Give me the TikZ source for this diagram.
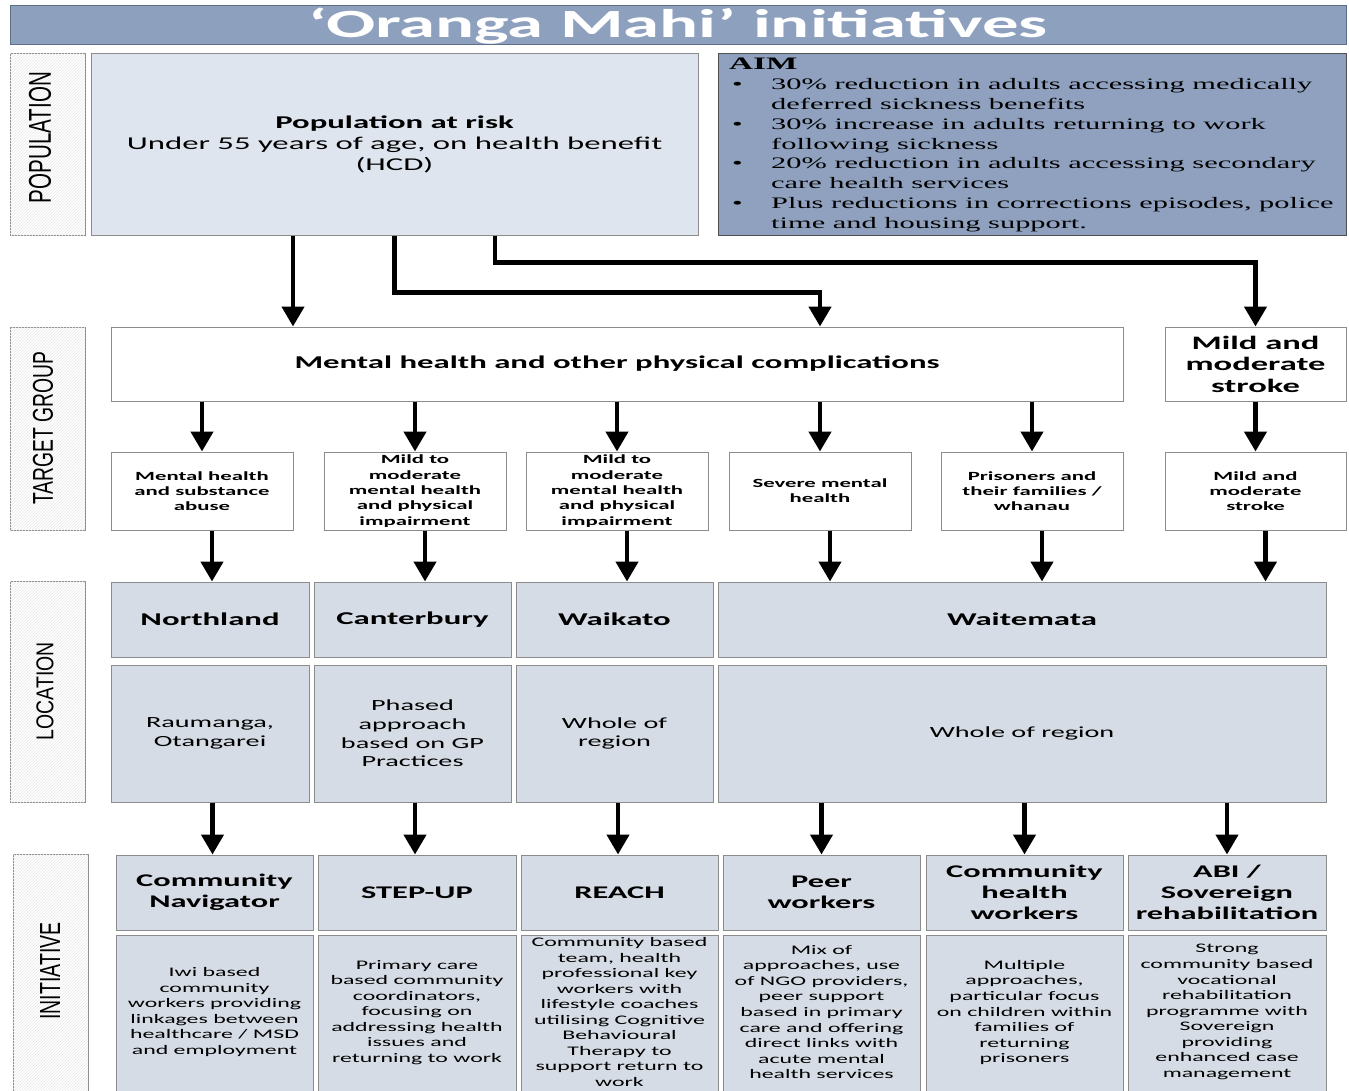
\documentclass[tikz,border=0pt]{standalone}
\usepackage{fontspec}
\setmainfont{Carlito}[FakeStretch=1.82]
\newfontfamily\aimfont{Liberation Serif}[FakeStretch=1.9]
\newfontfamily\sidefont{Liberation Sans}
\usetikzlibrary{arrows.meta,patterns}
\definecolor{titleblue}{RGB}{141,160,190}
\definecolor{titleedge}{RGB}{95,110,135}
\definecolor{aimblue}{RGB}{143,161,190}
\definecolor{aimedge}{RGB}{80,80,80}
\definecolor{popfill}{RGB}{222,229,239}
\definecolor{cellfill}{RGB}{214,220,229}
\definecolor{edgegray}{RGB}{140,140,140}
\definecolor{sidehatch}{RGB}{232,232,232}
\begin{document}
\begin{tikzpicture}[x=1pt,y=-1pt,
  box/.style={draw=edgegray, line width=1pt, inner sep=0pt, align=center},
  cell/.style={box, fill=cellfill},
  whitebox/.style={box, fill=white},
  sidebox/.style={draw=edgegray, line width=1pt, fill=white, inner sep=0pt,
    postaction={pattern=north east lines, pattern color=sidehatch}},
  sidelabel/.style={rotate=90, inner sep=0pt},
  txt/.style={inner sep=0pt, align=center},
  arr/.style={line width=4.5pt, -{Triangle[width=22pt,length=20pt]}},
  fpop/.style={font=\fontsize{18}{21}\selectfont},
  fmh/.style={font=\fontsize{18}{21}\selectfont\bfseries},
  fstroke/.style={font=\fontsize{19}{21.5}\selectfont\bfseries},
  fsmall/.style={font=\fontsize{12.5}{15.3}\selectfont\bfseries},
  floct/.style={font=\fontsize{18}{21}\selectfont\bfseries},
  flocb/.style={font=\fontsize{15.5}{18.7}\selectfont},
  finit/.style={font=\fontsize{17.8}{21}\selectfont\bfseries},
  finib/.style={font=\fontsize{13.1}{15.55}\selectfont},
]
\useasboundingbox (0,0) rectangle (1349,1090);
\clip (0,0) rectangle (1349,1090);

% title
\node[draw=titleedge, line width=1pt, fill=titleblue, minimum width=1336pt, minimum height=39pt, inner sep=0pt] (title) at (678,24.5) {};
\node[anchor=base, inner sep=0pt, text=white, font=\fontsize{40}{40}\selectfont\bfseries] (titletext) at (678,37.5) {‘Oranga Mahi’ initiatives};

% side labels
\node[sidebox, minimum width=75pt, minimum height=182pt] (sp) at (47.5,144) {};
\node[sidelabel] (spl) at (40,137.5) {\resizebox{131pt}{22pt}{\sidefont POPULATION}};
\node[sidebox, minimum width=75pt, minimum height=203pt] (st) at (47.5,428.5) {};
\node[sidelabel] (stl) at (43,428) {\resizebox{153pt}{20pt}{\sidefont TARGET GROUP}};
\node[sidebox, minimum width=75pt, minimum height=221pt] (sl) at (47.5,691.5) {};
\node[sidelabel] (sll) at (45,691) {\resizebox{98pt}{17pt}{\sidefont LOCATION}};
\node[sidebox, minimum width=75pt, minimum height=250pt] (si) at (50.5,979) {};
\node[sidelabel] (sil) at (50,971) {\resizebox{97pt}{20pt}{\sidefont INITIATIVE}};

% population
\node[box, fill=popfill, minimum width=607pt, minimum height=182pt, fpop] (pop) at (394.5,144)
  {\textbf{Population at risk}\\Under 55 years of age, on health benefit\\(HCD)};

% aim
\node[draw=aimedge, line width=1pt, fill=aimblue, minimum width=628pt, minimum height=182pt, inner sep=0pt] (aimbox) at (1032,144) {};
\node[anchor=north west, inner sep=0pt, align=left, font=\aimfont\fontsize{16}{19.7}\selectfont] (aim) at (729,57.5)
  {{\fontsize{17.5}{19.7}\selectfont\textbf{AIM}}\\[1pt]
   \makebox[42pt][l]{\hspace{3pt}\textbullet}30\% reduction in adults accessing medically\\
   \makebox[42pt]{}deferred sickness benefits\\
   \makebox[42pt][l]{\hspace{3pt}\textbullet}30\% increase in adults returning to work\\
   \makebox[42pt]{}following sickness\\
   \makebox[42pt][l]{\hspace{3pt}\textbullet}20\% reduction in adults accessing secondary\\
   \makebox[42pt]{}care health services\\
   \makebox[42pt][l]{\hspace{3pt}\textbullet}Plus reductions in corrections episodes, police\\[0.8pt]
   \makebox[42pt]{}time and housing support.};

% target group
\node[whitebox, minimum width=1012pt, minimum height=74pt, fmh] (mh) at (617,364) {Mental health and other physical complications};
\node[whitebox, minimum width=181pt, minimum height=74pt, fstroke] (stroke) at (1255.5,364) {Mild and\\moderate\\stroke};

\node[whitebox, minimum width=182pt, minimum height=78pt, fsmall] (s1) at (202,491) {Mental health\\and substance\\abuse};
\node[whitebox, minimum width=182pt, minimum height=78pt, fsmall] (s2) at (415,491) {Mild to\\moderate\\mental health\\and physical\\impairment};
\node[whitebox, minimum width=182pt, minimum height=78pt, fsmall] (s3) at (617,491) {Mild to\\moderate\\mental health\\and physical\\impairment};
\node[whitebox, minimum width=182pt, minimum height=78pt, fsmall] (s4) at (820,491) {Severe mental\\health};
\node[whitebox, minimum width=182pt, minimum height=78pt, fsmall] (s5) at (1032,491) {Prisoners and\\their families /\\whanau};
\node[whitebox, minimum width=181pt, minimum height=78pt, fsmall] (s6) at (1255.5,491) {Mild and\\moderate\\stroke};

% location
\node[cell, minimum width=198pt, minimum height=75pt, floct] (l1) at (210,619.5) {Northland};
\node[cell, minimum width=197pt, minimum height=75pt, floct] (l2) at (412.5,619.5) {Canterbury};
\node[cell, minimum width=197pt, minimum height=75pt, floct] (l3) at (614.5,619.5) {Waikato};
\node[cell, minimum width=608pt, minimum height=75pt, floct] (l4) at (1022,619.5) {Waitemata};

\node[cell, minimum width=198pt, minimum height=137pt, flocb] (lb1) at (210,733.5) {Raumanga,\\Otangarei};
\node[cell, minimum width=197pt, minimum height=137pt, flocb] (lb2) at (412.5,733.5) {Phased\\approach\\based on GP\\Practices};
\node[cell, minimum width=197pt, minimum height=137pt, flocb] (lb3) at (614.5,733.5) {Whole of\\region};
\node[cell, minimum width=608pt, minimum height=137pt, flocb] (lb4) at (1022,733.5) {Whole of region};

% initiative
\node[cell, minimum width=197pt, minimum height=75pt, finit] (i1) at (214.5,892.5) {Community\\Navigator};
\node[cell, minimum width=198pt, minimum height=75pt, finit] (i2) at (417,892.5) {STEP-UP};
\node[cell, minimum width=197pt, minimum height=75pt, finit] (i3) at (619.5,892.5) {REACH};
\node[cell, minimum width=197pt, minimum height=75pt, finit] (i4) at (821.5,892.5) {Peer\\workers};
\node[cell, minimum width=197pt, minimum height=75pt, finit] (i5) at (1024.5,892.5) {Community\\health\\workers};
\node[cell, minimum width=198pt, minimum height=75pt, finit] (i6) at (1227,892.5) {ABI /\\Sovereign\\rehabilitation};

\node[cell, minimum width=197pt, minimum height=170pt] (ib1) at (214.5,1020) {};
\node[cell, minimum width=198pt, minimum height=170pt] (ib2) at (417,1020) {};
\node[cell, minimum width=197pt, minimum height=170pt] (ib3) at (619.5,1020) {};
\node[cell, minimum width=197pt, minimum height=170pt] (ib4) at (821.5,1020) {};
\node[cell, minimum width=197pt, minimum height=170pt] (ib5) at (1024.5,1020) {};
\node[cell, minimum width=198pt, minimum height=170pt] (ib6) at (1227,1020) {};

\node[txt, finib] (t1) at (214.5,1012) {Iwi based\\community\\workers providing\\linkages between\\healthcare / MSD\\and employment};
\node[txt, finib] (t2) at (417,1012.5) {Primary care\\based community\\coordinators,\\focusing on\\addressing health\\issues and\\returning to work};
\node[txt, finib] (t3) at (619.5,1012) {Community based\\team, health\\professional key\\workers with\\lifestyle coaches\\utilising Cognitive\\Behavioural\\Therapy to\\support return to\\work};
\node[txt, finib] (t4) at (821.5,1012) {Mix of\\approaches, use\\of NGO providers,\\peer support\\based in primary\\care and offering\\direct links with\\acute mental\\health services};
\node[txt, finib] (t5) at (1024.5,1012.5) {Multiple\\approaches,\\particular focus\\on children within\\families of\\returning\\prisoners};
\node[txt, finib] (t6) at (1227,1012) {Strong\\community based\\vocational\\rehabilitation\\programme with\\Sovereign\\providing\\enhanced case\\management};

% arrows population -> target
\draw[arr] ([xshift=-101.5pt]pop.south) -- ([xshift=-101.5pt]pop.south |- mh.north);
\draw[arr] (pop.south) -- ++(0,57) -| (s4.north |- mh.north);
\draw[arr] ([xshift=100.5pt]pop.south) -- ++(0,27) -| (stroke.north);

% target -> subgroups
\foreach \n in {s1,s2,s3,s4,s5}
  \draw[arr] (\n.north |- mh.south) -- (\n.north);
\draw[arr] (stroke.south) -- (s6.north);

% subgroups -> location
\draw[arr] ([xshift=10pt]s1.south) -- ([xshift=10pt]s1.south |- l1.north);
\draw[arr] ([xshift=10pt]s2.south) -- ([xshift=10pt]s2.south |- l2.north);
\draw[arr] ([xshift=10pt]s3.south) -- ([xshift=10pt]s3.south |- l3.north);
\draw[arr] ([xshift=10pt]s4.south) -- ([xshift=10pt]s4.south |- l4.north);
\draw[arr] ([xshift=10pt]s5.south) -- ([xshift=10pt]s5.south |- l4.north);
\draw[arr] ([xshift=10pt]s6.south) -- ([xshift=10pt]s6.south |- l4.north);

% location -> initiative
\draw[arr] ([xshift=-2pt]i1.north |- lb1.south) -- ([xshift=-2pt]i1.north);
\draw[arr] ([xshift=-2pt]i2.north |- lb2.south) -- ([xshift=-2pt]i2.north);
\draw[arr] ([xshift=-1.5pt]i3.north |- lb3.south) -- ([xshift=-1.5pt]i3.north);
\draw[arr] (i4.north |- lb4.south) -- (i4.north);
\draw[arr] (i5.north |- lb4.south) -- (i5.north);
\draw[arr] (i6.north |- lb4.south) -- (i6.north);
\end{tikzpicture}
\end{document}
